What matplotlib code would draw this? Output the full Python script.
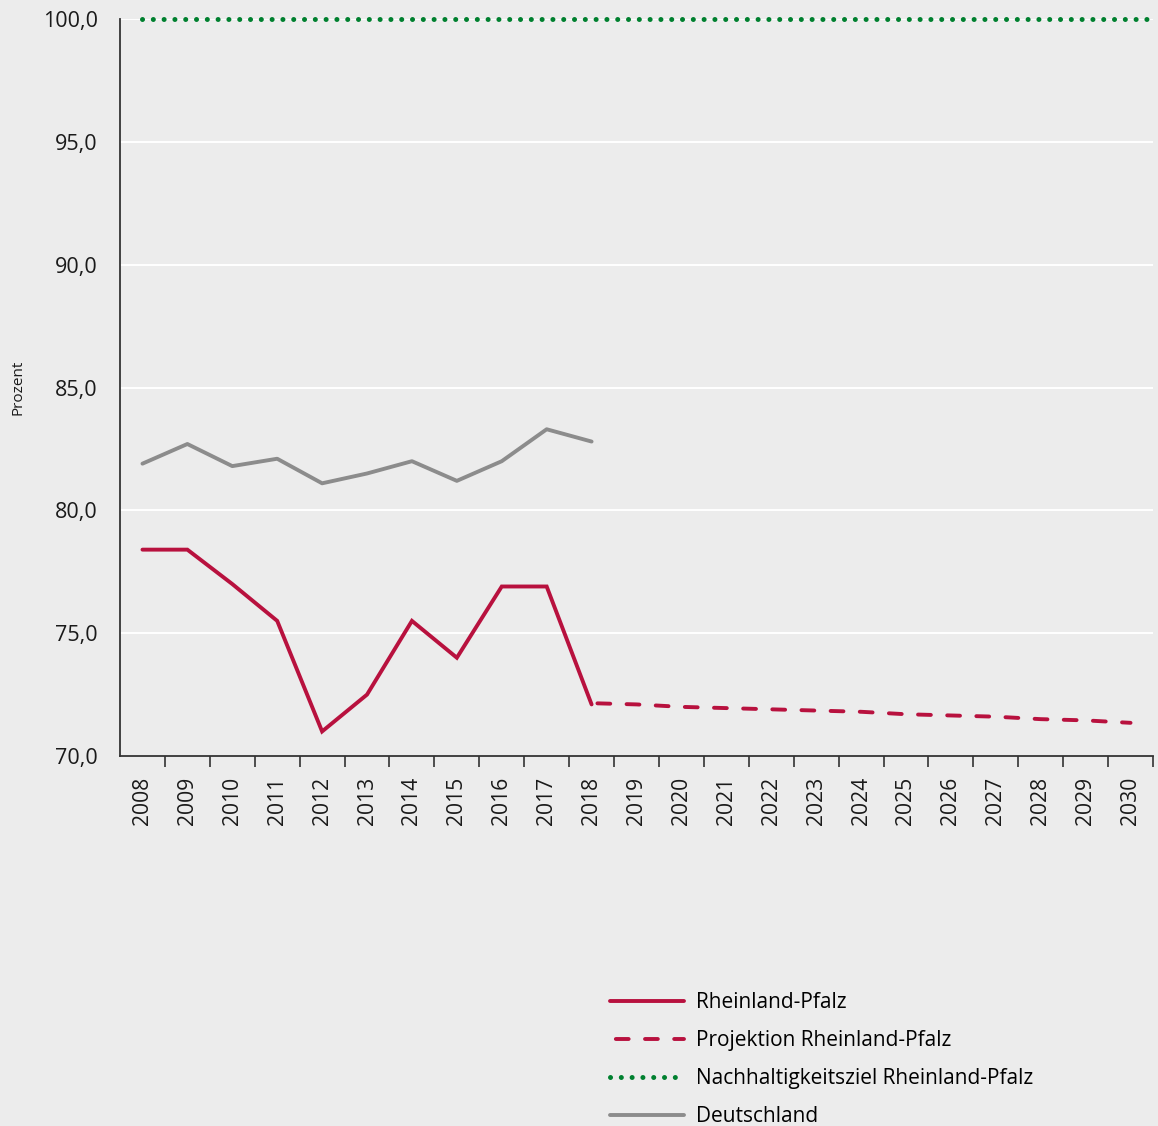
import matplotlib
matplotlib.use("Agg")
import matplotlib.pyplot as plt
import numpy as np

# --- Daten ---
years = [str(y) for y in range(2008, 2031)]

rlp_years = years[:11]
rlp_values = [78.4, 78.4, 77.0, 75.5, 71.0, 72.5, 75.5, 74.0, 76.9, 76.9, 72.1]

proj_years = years[10:]
proj_values = [72.15, 72.1, 72.0, 71.95, 71.9, 71.85, 71.8, 71.7, 71.65, 71.6, 71.5, 71.45, 71.35]

de_years = years[:11]
de_values = [81.9, 82.7, 81.8, 82.1, 81.1, 81.5, 82.0, 81.2, 82.0, 83.3, 82.8]

target_value = 100.0

y_ticks = [70, 75, 80, 85, 90, 95, 100]

# --- Farben ---
BG = "#ececec"
RED = "#b8113e"
GREY = "#8c8c8c"
GREEN = "#00802f"

plt.rcParams['font.family'] = ['Open Sans', 'DejaVu Sans']

fig = plt.figure(figsize=(11.58, 11.26), dpi=100, facecolor=BG)
ax = fig.add_axes([120 / 1158, 1 - 756 / 1126, (1153 - 120) / 1158, (756 - 19) / 1126])
ax.set_facecolor(BG)

pos = {y: i for i, y in enumerate(years)}

def xs(labels):
    return [pos[l] for l in labels]

n = len(years)

ax.plot(xs(rlp_years), rlp_values, color=RED, lw=2.8, solid_capstyle='round',
        solid_joinstyle='miter', label="Rheinland-Pfalz", zorder=4)
ax.plot(xs(proj_years), proj_values, color=RED, lw=2.8, dash_capstyle='round',
        linestyle=(6, (3.3, 4.2)), label="Projektion Rheinland-Pfalz", zorder=4)
# Zielwert ueber die ganze Achse (ab Mitte 2008 bis rechter Rand)
ax.axhline(target_value, xmin=0.5 / n, xmax=1.0, color=GREEN, lw=3.6,
           linestyle=(0, (0.01, 2.15)), dash_capstyle='round', zorder=5,
           clip_on=False, label="Nachhaltigkeitsziel Rheinland-Pfalz")
ax.plot(xs(de_years), de_values, color=GREY, lw=2.8, solid_capstyle='round',
        label="Deutschland", zorder=3)

# Achsen
ax.set_xlim(-0.5, n - 0.5)
ax.set_ylim(70, 100)
ax.set_yticks(y_ticks)
ax.set_yticklabels([f"{v:.1f}".replace(".", ",") for v in y_ticks], fontsize=15.5, color="#1a1a1a")
ax.tick_params(axis='y', length=0, pad=16)
ax.yaxis.grid(True, color="white", lw=1.4)
ax.set_axisbelow(True)

ax.set_xticks(range(n))
ax.set_xticklabels(years, rotation=90, fontsize=15.2, color="#1a1a1a")
ax.tick_params(axis='x', length=0, pad=15)
ax.set_xticks(np.arange(0.5, n, 1.0), minor=True)
ax.tick_params(axis='x', which='minor', length=8, width=1.2, color="#333333", direction='out')

for side in ['top', 'right']:
    ax.spines[side].set_visible(False)
for side in ['left', 'bottom']:
    ax.spines[side].set_color("#333333")
    ax.spines[side].set_linewidth(1.3)

fig.text(18 / 1158, 1 - 387 / 1126, "Prozent", rotation=90, ha='center', va='center',
         fontsize=11, color="#1a1a1a")

leg = fig.legend(loc='upper left', bbox_to_anchor=(610 / 1158, 1 - 992 / 1126),
                 frameon=False, fontsize=15, handlelength=3.55, handletextpad=0.6,
                 labelspacing=0.82, borderpad=0, borderaxespad=0)

fig.savefig("out.png", dpi=100, facecolor=BG)
